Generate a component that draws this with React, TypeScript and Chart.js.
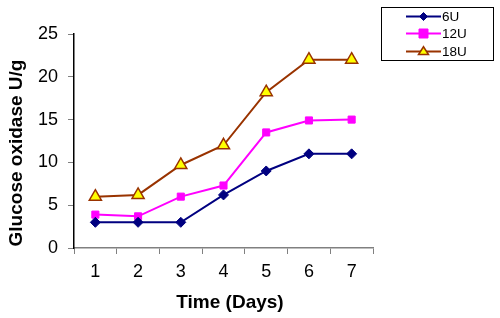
import React, { useEffect, useRef } from "react";
import { Chart, registerables } from "chart.js";

Chart.register(...registerables);

const days = ["1", "2", "3", "4", "5", "6", "7"];
const u6 = [3.0, 3.0, 3.0, 6.2, 9.0, 11.0, 11.0];
const u12 = [3.9, 3.7, 6.0, 7.3, 13.5, 14.9, 15.0];
const u18 = [6.0, 6.2, 9.7, 12.0, 18.2, 22.0, 22.0];
const xTitle = "Time (Days)";
const yTitle = "Glucose oxidase U/g";

const FONT = "'Liberation Sans', Arial, sans-serif";

function drawPoint(ctx: CanvasRenderingContext2D, style: string, r: number, x: number, y: number) {
  ctx.beginPath();
  if (style === "rectRot") {
    ctx.moveTo(x, y - r);
    ctx.lineTo(x + r, y);
    ctx.lineTo(x, y + r);
    ctx.lineTo(x - r, y);
    ctx.closePath();
  } else if (style === "rect") {
    ctx.rect(x - r, y - r, 2 * r, 2 * r);
  } else {
    ctx.moveTo(x, y - r * 0.95);
    ctx.lineTo(x + r, y + r * 0.6);
    ctx.lineTo(x - r, y + r * 0.6);
    ctx.closePath();
  }
  ctx.fill();
  ctx.stroke();
}

const boxLegend = {
  id: "boxLegend",
  afterDraw(chart: any) {
    const ctx = chart.ctx;
    const x0 = 381.5, y0 = 7.5, w = 112, h = 53;
    ctx.save();
    ctx.strokeStyle = "#000";
    ctx.lineWidth = 1;
    ctx.strokeRect(x0, y0, w, h);
    const rows = [16.5, 33.5, 51.5];
    chart.data.datasets.forEach((ds: any, i: number) => {
      const y = rows[i];
      ctx.strokeStyle = ds.borderColor;
      ctx.lineWidth = 2;
      ctx.beginPath();
      ctx.moveTo(406, y);
      ctx.lineTo(441, y);
      ctx.stroke();
      const r = i === 2 ? 5 : i === 1 ? 4.5 : 4;
      ctx.fillStyle = ds.pointBackgroundColor;
      ctx.strokeStyle = ds.pointBorderColor;
      ctx.lineWidth = ds.pointBorderWidth;
      drawPoint(ctx, ds.pointStyle, r, 423.5, y);
      ctx.fillStyle = "#000";
      ctx.font = "13.5px " + FONT;
      ctx.textBaseline = "middle";
      ctx.textAlign = "left";
      ctx.fillText(ds.label, 442, y + 0.5);
    });
    ctx.restore();
  },
};

const axisTitles = {
  id: "axisTitles",
  afterDraw(chart: any) {
    const ctx = chart.ctx;
    ctx.save();
    ctx.fillStyle = "#000";
    ctx.font = "bold 19px " + FONT;
    ctx.textAlign = "center";
    ctx.textBaseline = "middle";
    ctx.fillText(xTitle, 230, 303);
    ctx.translate(17, 153);
    ctx.rotate(-Math.PI / 2);
    ctx.fillText(yTitle, 0, 0);
    ctx.restore();
  },
};

export default function App() {
  const ref = useRef<HTMLCanvasElement>(null);
  useEffect(() => {
    if (!ref.current) return;
    const chart = new Chart(ref.current, {
      type: "line",
      data: {
        labels: days,
        datasets: [
          {
            label: "6U",
            data: u6,
            borderColor: "#000080",
            borderWidth: 2,
            pointStyle: "rectRot",
            pointRadius: 5,
            pointBackgroundColor: "#000080",
            pointBorderColor: "#000080",
            pointBorderWidth: 1,
          },
          {
            label: "12U",
            data: u12,
            borderColor: "#FF00FF",
            borderWidth: 2,
            pointStyle: "rect",
            pointRadius: 5,
            pointBackgroundColor: "#FF00FF",
            pointBorderColor: "#FF00FF",
            pointBorderWidth: 1,
          },
          {
            label: "18U",
            data: u18,
            borderColor: "#993300",
            borderWidth: 2,
            pointStyle: "triangle",
            pointRadius: 7,
            pointBackgroundColor: "#FFFF00",
            pointBorderColor: "#993300",
            pointBorderWidth: 1.5,
          },
        ],
      },
      options: {
        animation: false,
        responsive: false,
        maintainAspectRatio: false,
        layout: { padding: { top: 34, right: 127, left: 0, bottom: 0 } },
        plugins: {
          legend: { display: false },
          tooltip: { enabled: false },
        },
        scales: {
          x: {
            offset: true,
            afterFit: (s: any) => {
              s.height = 70;
            },
            grid: {
              offset: true,
              drawOnChartArea: false,
              drawTicks: true,
              tickLength: 6,
              color: "#808080",
              lineWidth: 1,
            },
            border: { display: true, color: "#808080", width: 1.5 },
            ticks: {
              color: "#000",
              font: { family: FONT, size: 18 },
              padding: 7,
              maxRotation: 0,
            },
          },
          y: {
            min: 0,
            max: 25,
            afterFit: (s: any) => {
              s.width = 74;
            },
            grid: {
              drawOnChartArea: false,
              drawTicks: true,
              tickLength: 6,
              color: "#808080",
            },
            border: { display: true, color: "#000", width: 1.5 },
            ticks: {
              stepSize: 5,
              color: "#000",
              font: { family: FONT, size: 18 },
              padding: 10,
            },
          },
        },
      },
      plugins: [boxLegend, axisTitles],
    } as any);
    return () => chart.destroy();
  }, []);
  return (
    <div style={{ position: "absolute", left: 0, top: 0, width: 500, height: 318 }}>
      <canvas ref={ref} width={500} height={318} style={{ width: 500, height: 318, display: "block" }} />
    </div>
  );
}
